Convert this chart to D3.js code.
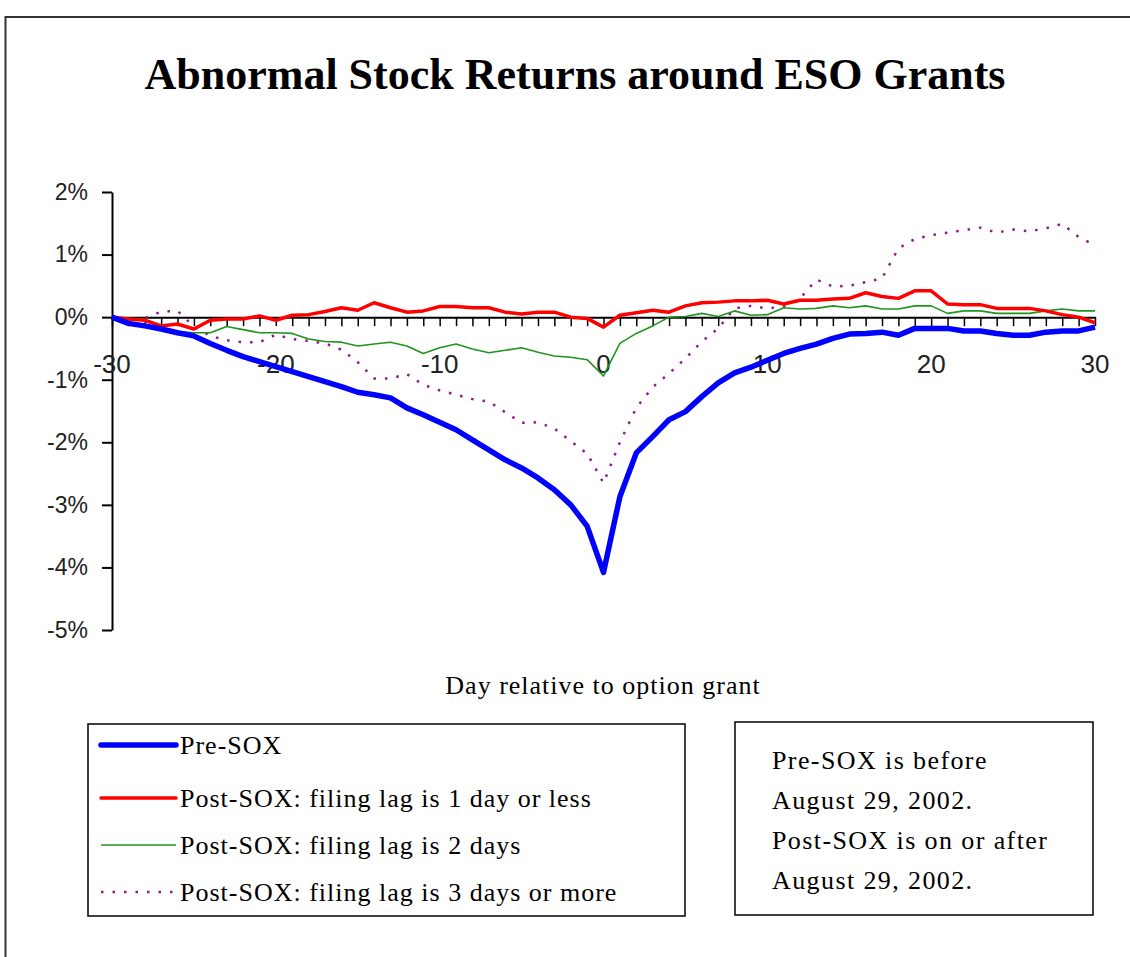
<!DOCTYPE html>
<html>
<head>
<meta charset="utf-8">
<script src="https://cdn.jsdelivr.net/npm/d3@7"></script>
<style>
  html, body { margin: 0; padding: 0; background: #fff; }
  svg { display: block; }
</style>
</head>
<body>
<svg id="chart" width="1130" height="957"></svg>
<script>
// days -30 .. 30
const days = d3.range(-30, 31);

// cumulative abnormal returns, in percent
const preSox = [
  0, -0.1, -0.14, -0.19, -0.25, -0.3, -0.42, -0.53, -0.63, -0.71,
  -0.79, -0.87, -0.95, -1.03, -1.11, -1.2, -1.24, -1.29, -1.45, -1.56,
  -1.68, -1.8, -1.96, -2.12, -2.28, -2.41, -2.57, -2.76, -3.0, -3.34,
  -4.08,
  -2.87, -2.17, -1.91, -1.64, -1.51, -1.27, -1.05, -0.89, -0.8, -0.69,
  -0.58, -0.5, -0.43, -0.34, -0.27, -0.26, -0.24, -0.29, -0.18, -0.18,
  -0.18, -0.22, -0.22, -0.26, -0.29, -0.29, -0.24, -0.22, -0.22, -0.16
];
const lag1 = [
  0, -0.03, -0.05, -0.14, -0.11, -0.19, -0.05, -0.03, -0.03, 0.02,
  -0.05, 0.03, 0.04, 0.09, 0.15, 0.11, 0.23, 0.15, 0.08, 0.1,
  0.17, 0.17, 0.15, 0.15, 0.08, 0.05, 0.08, 0.08, 0.0, -0.02,
  -0.16,
  0.03, 0.07, 0.11, 0.08, 0.18, 0.23, 0.24, 0.26, 0.26, 0.27,
  0.21, 0.27, 0.27, 0.29, 0.3, 0.39, 0.33, 0.3, 0.42, 0.42,
  0.21, 0.2, 0.2, 0.14, 0.14, 0.14, 0.1, 0.04, 0.0, -0.09
];
const lag2 = [
  0, -0.02, -0.03, -0.17, -0.23, -0.25, -0.25, -0.15, -0.2, -0.25,
  -0.25, -0.26, -0.35, -0.39, -0.4, -0.46, -0.43, -0.4, -0.46, -0.58,
  -0.49, -0.43, -0.51, -0.57, -0.53, -0.49, -0.56, -0.62, -0.64, -0.68,
  -0.94,
  -0.42, -0.26, -0.14, 0.0, 0.01, 0.06, 0.01, 0.1, 0.03, 0.04,
  0.15, 0.13, 0.14, 0.18, 0.15, 0.18, 0.13, 0.13, 0.18, 0.18,
  0.06, 0.1, 0.1, 0.06, 0.06, 0.06, 0.1, 0.13, 0.1, 0.1
];
const lag3 = [
  0, -0.06, -0.02, 0.09, 0.1, -0.15, -0.3, -0.37, -0.4, -0.4,
  -0.28, -0.35, -0.38, -0.42, -0.52, -0.72, -0.98, -0.98, -0.91, -1.08,
  -1.17, -1.24, -1.31, -1.35, -1.52, -1.69, -1.68, -1.78, -1.98, -2.18,
  -2.65,
  -2.0, -1.45, -1.12, -0.9, -0.66, -0.39, -0.18, 0.14, 0.18, 0.14,
  0.17, 0.3, 0.6, 0.49, 0.5, 0.56, 0.62, 1.1, 1.25, 1.31,
  1.35, 1.39, 1.43, 1.35, 1.4, 1.37, 1.42, 1.49, 1.28, 1.15
];

const yTicks = [-5, -4, -3, -2, -1, 0, 1, 2];
const xLabels = [-30, -20, -10, 0, 10, 20, 30];

const seriesNames = [
  'Pre-SOX',
  'Post-SOX: filing lag is 1 day or less',
  'Post-SOX: filing lag is 2 days',
  'Post-SOX: filing lag is 3 days or more'
];
const noteLines = [
  'Pre-SOX is before',
  'August 29, 2002.',
  'Post-SOX is on or after',
  'August 29, 2002.'
];

const styles = [
  { color: '#0000ff', width: 5.5, dash: null },
  { color: '#ff0000', width: 3.5, dash: null },
  { color: '#1f951f', width: 1.6, dash: null },
  { color: '#8e1a8e', width: 2.5, dash: '2.5,9' }
];
const allSeries = [preSox, lag1, lag2, lag3];

const svg = d3.select('#chart');
const serif = '"Liberation Serif", "Times New Roman", serif';
const sans = '"Liberation Sans", Arial, sans-serif';

// outer frame, runs off the page on the right and bottom
svg.append('rect')
  .attr('x', 5.5).attr('y', 17)
  .attr('width', 1200).attr('height', 1000)
  .attr('fill', 'none').attr('stroke', '#333').attr('stroke-width', 2);

svg.append('text')
  .attr('x', 575).attr('y', 89)
  .attr('text-anchor', 'middle')
  .style('font-family', serif).style('font-weight', 'bold').style('font-size', '44px')
  .text('Abnormal Stock Returns around ESO Grants');

const x = d3.scaleLinear().domain([-30, 30]).range([112, 1095]);
const y = d3.scaleLinear().domain([-5, 2]).range([630, 192]);

// y axis
const yAxis = svg.append('g')
  .attr('transform', `translate(${x(-30)},0)`)
  .call(d3.axisLeft(y).tickValues(yTicks).tickSizeInner(10).tickSizeOuter(0)
    .tickPadding(14).tickFormat(d => d + '%'));
yAxis.select('.domain').attr('stroke', '#000').attr('stroke-width', 2);
yAxis.selectAll('.tick line').attr('stroke', '#000').attr('stroke-width', 2);
yAxis.selectAll('.tick text')
  .style('font-family', sans).style('font-size', '23px').attr('fill', '#222');

// x axis at zero, one tick per day
const xAxis = svg.append('g')
  .attr('transform', `translate(0,${y(0)})`)
  .call(d3.axisBottom(x).tickValues(days).tickSizeInner(9).tickSizeOuter(0).tickFormat(''));
xAxis.select('.domain').attr('stroke', '#000').attr('stroke-width', 2);
xAxis.selectAll('.tick line').attr('stroke', '#000').attr('stroke-width', 1.5);

svg.append('g').selectAll('text')
  .data(xLabels)
  .join('text')
  .attr('x', d => x(d)).attr('y', y(0) + 56)
  .attr('text-anchor', 'middle')
  .style('font-family', sans).style('font-size', '26px').attr('fill', '#222')
  .text(d => d);

// series
const line = d3.line().x((d, i) => x(days[i])).y(d => y(d));
svg.append('g').selectAll('path')
  .data(allSeries.map((s, i) => ({ s, st: styles[i] })).reverse())
  .join('path')
  .attr('d', d => line(d.s))
  .attr('fill', 'none')
  .attr('stroke', d => d.st.color)
  .attr('stroke-width', d => d.st.width)
  .attr('stroke-dasharray', d => d.st.dash)
  .attr('stroke-linejoin', 'round');

svg.append('text')
  .attr('x', 603).attr('y', 694)
  .attr('text-anchor', 'middle')
  .style('font-family', serif).style('font-size', '26px').style('letter-spacing', '1px')
  .text('Day relative to option grant');

// legend
const leg = svg.append('g');
leg.append('rect')
  .attr('x', 88).attr('y', 724).attr('width', 597).attr('height', 192)
  .attr('fill', '#fff').attr('stroke', '#000').attr('stroke-width', 1.5);
const rowY = [745, 798, 845, 892];
const rows = leg.selectAll('g.row')
  .data(seriesNames)
  .join('g').attr('class', 'row')
  .attr('transform', (d, i) => `translate(0,${rowY[i]})`);
rows.append('line')
  .attr('x1', 101).attr('x2', 176).attr('y1', 0).attr('y2', 0)
  .attr('stroke', (d, i) => styles[i].color)
  .attr('stroke-width', (d, i) => styles[i].width)
  .attr('stroke-dasharray', (d, i) => styles[i].dash)
  .attr('stroke-linecap', (d, i) => i < 2 ? 'round' : 'butt');
rows.append('text')
  .attr('x', 180).attr('y', 9)
  .style('font-family', serif).style('font-size', '26px').style('letter-spacing', '1px')
  .text(d => d);

// note box
const note = svg.append('g');
note.append('rect')
  .attr('x', 735).attr('y', 722).attr('width', 358).attr('height', 193)
  .attr('fill', '#fff').attr('stroke', '#000').attr('stroke-width', 1.5);
note.selectAll('text')
  .data(noteLines)
  .join('text')
  .attr('x', 772).attr('y', (d, i) => 769 + i * 40)
  .style('font-family', serif).style('font-size', '26px').style('letter-spacing', '1.4px')
  .text(d => d);
</script>
</body>
</html>
